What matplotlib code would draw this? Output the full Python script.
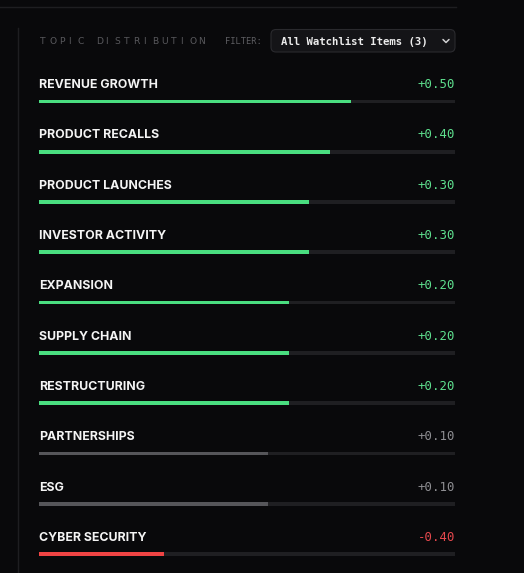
import matplotlib.pyplot as plt
from matplotlib.patches import FancyBboxPatch

topics = ["REVENUE GROWTH", "PRODUCT RECALLS", "PRODUCT LAUNCHES", "INVESTOR ACTIVITY",
          "EXPANSION", "SUPPLY CHAIN", "RESTRUCTURING", "PARTNERSHIPS", "ESG", "CYBER SECURITY"]
scores = [0.50, 0.40, 0.30, 0.30, 0.20, 0.20, 0.20, 0.10, 0.10, -0.40]
title = "TOPIC DISTRIBUTION"
filter_label = "FILTER:"
filter_value = "All Watchlist Items (3)"

BG = "#09090b"
GREEN = "#4ade80"
RED = "#ef4444"
GRAY_BAR = "#56565a"
TRACK = "#1f1f22"


def colors_for(v):
    if v >= 0.2:
        return GREEN, "#5ee08e"
    if v < 0:
        return RED, "#e5484d"
    return GRAY_BAR, "#8e8e92"


W, H = 524, 573
fig = plt.figure(figsize=(W / 100, H / 100), dpi=100, facecolor=BG)
ax = fig.add_axes([0, 0, 1, 1])
ax.set_xlim(0, W)
ax.set_ylim(H, 0)
ax.axis("off")
ax.set_facecolor(BG)

# frame lines
ax.plot([0, 456], [6.5, 6.5], color="#1e1e21", lw=1)
ax.plot([18, 18], [28, H], color="#1e1e21", lw=1)

# header
for i, ch in enumerate(title):
    ax.text(40 + i * 9.33, 44.5, ch, fontsize=6.6, color="#58585c", family="DejaVu Sans",
            va="baseline", ha="left")
ax.text(225, 44.5, filter_label, fontsize=6.3, color="#5e5e62", family="DejaVu Sans Mono",
        va="baseline", ha="left")
box = FancyBboxPatch((271, 29.5), 184, 22.5, boxstyle="round,pad=0,rounding_size=5",
                     fc="#141417", ec="#2a2a2e", lw=0.8)
ax.add_patch(box)
ax.text(281, 45, filter_value, fontsize=7.7, color="#ececec", family="DejaVu Sans Mono",
        weight="bold", va="baseline", ha="left")
ax.plot([443, 446, 449], [39.5, 42.5, 39.5], color="#d0d0d0", lw=1.1,
        solid_capstyle="round", solid_joinstyle="round")

# rows
x0, x1 = 39, 455
track_w = x1 - x0
y0, step = 88.2, 50.3
for i, (name, v) in enumerate(zip(topics, scores)):
    y = y0 + i * step
    bar_c, txt_c = colors_for(v)
    ax.text(x0, y, name, fontsize=8.9, color="#f4f4f4", family="Inter", weight="bold",
            va="baseline", ha="left")
    ax.text(x1, y, f"{v:+.2f}", fontsize=8.9, color=txt_c, family="DejaVu Sans Mono",
            va="baseline", ha="right")
    by = y + 13.2
    ax.barh(by, track_w, left=x0, height=3.8, color=TRACK, linewidth=0)
    ax.barh(by, (v + 1) / 2 * track_w, left=x0, height=3.8, color=bar_c, linewidth=0)

fig.savefig("out.png", dpi=100, facecolor=BG)
